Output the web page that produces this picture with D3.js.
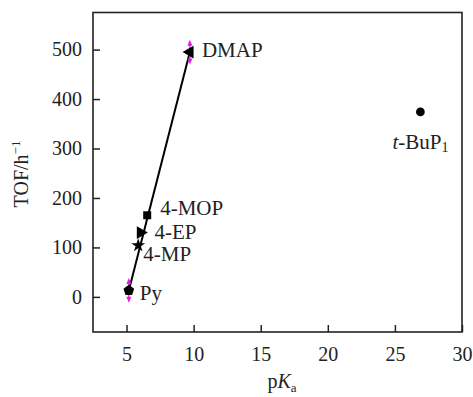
<!DOCTYPE html>
<html><head><meta charset="utf-8">
<script src="https://cdn.jsdelivr.net/npm/d3@7"></script>
<style>body{margin:0;background:#fff}svg{display:block}svg text{font-family:"Liberation Serif","DejaVu Serif",serif !important;fill:#222}</style>
</head><body><svg id="c" width="473" height="397"></svg>
<script>
const names = ["Py","4-MP","4-EP","4-MOP","DMAP","t-BuP1"];
const pKa = [5.17, 5.87, 6.04, 6.54, 9.72, 26.9];
const tof = [13, 104, 130, 165, 495, 374];
const errs = [25, 0, 0, 0, 25, 0];
const xTicks = [5, 10, 15, 20, 25, 30];
const yTicks = [0, 100, 200, 300, 400, 500];
const fitIdx = [0, 4];

const svg = d3.select("#c");
const L = 93, R = 462, T = 12.5, B = 332;
const x = d3.scaleLinear().domain([2.5, 30]).range([L, R]);
const y = d3.scaleLinear().domain([-71, 575]).range([B, T]);

svg.append("rect").attr("x", L).attr("y", T).attr("width", R - L).attr("height", B - T)
  .attr("fill", "none").attr("stroke", "#222").attr("stroke-width", 1.6);

const xa = svg.append("g").attr("transform", `translate(0,${B})`)
  .call(d3.axisBottom(x).tickValues(xTicks).tickSize(-7).tickPadding(15).tickFormat(d3.format("d")));
const ya = svg.append("g").attr("transform", `translate(${L},0)`)
  .call(d3.axisLeft(y).tickValues(yTicks).tickSize(-7).tickPadding(11).tickFormat(d3.format("d")));
[xa, ya].forEach(a => {
  a.attr("font-family", "Liberation Serif").attr("font-size", 20);
  a.select(".domain").remove();
  a.selectAll("line").attr("stroke", "#222").attr("stroke-width", 1.5);
  a.selectAll("text").attr("font-size", 20).attr("fill", "#222")
   .attr("font-family", "Liberation Serif");
});

// axis titles
const xt = svg.append("text").attr("x", 282).attr("y", 388).attr("text-anchor", "middle").attr("font-size", 20);
xt.append("tspan").text("p");
xt.append("tspan").attr("font-style", "italic").text("K");
xt.append("tspan").attr("font-size", 13).attr("dy", 4).text("a");

const yt = svg.append("text").attr("transform", "translate(28,174) rotate(-90)").attr("text-anchor", "middle").attr("font-size", 20);
yt.append("tspan").text("TOF/h");
yt.append("tspan").attr("font-size", 13).attr("dy", -8).text("\u22121");

// fit line
svg.append("line")
  .attr("x1", x(pKa[fitIdx[0]])).attr("y1", y(tof[fitIdx[0]]))
  .attr("x2", x(pKa[fitIdx[1]])).attr("y2", y(tof[fitIdx[1]]))
  .attr("stroke", "#000").attr("stroke-width", 2);

// error bars
const mag = "#e619e6";
pKa.forEach((p, i) => {
  if (!errs[i]) return;
  const cx = x(p), y1 = y(tof[i] + errs[i]), y2 = y(tof[i] - errs[i]);
  svg.append("line").attr("x1", cx).attr("x2", cx).attr("y1", y1 + 3).attr("y2", y2 - 3)
    .attr("stroke", mag).attr("stroke-width", 1.3);
  svg.append("path").attr("d", `M${cx},${y1} L${cx - 2.5},${y1 + 6} L${cx + 2.5},${y1 + 6}Z`).attr("fill", mag);
  svg.append("path").attr("d", `M${cx},${y2} L${cx - 2.5},${y2 - 6} L${cx + 2.5},${y2 - 6}Z`).attr("fill", mag);
});

// markers
const pentagon = { draw(ctx, size) {
  const r = Math.sqrt(size / 2.378);
  for (let k = 0; k < 5; k++) {
    const a = -Math.PI / 2 + k * 2 * Math.PI / 5;
    k ? ctx.lineTo(r * Math.cos(a), r * Math.sin(a)) : ctx.moveTo(r * Math.cos(a), r * Math.sin(a));
  }
  ctx.closePath();
}};
const shapes = [
  { t: pentagon, s: 75, r: 0 },
  { t: d3.symbolStar, s: 60, r: 0 },
  { t: d3.symbolTriangle, s: 70, r: 90 },
  { t: d3.symbolSquare, s: 64, r: 0 },
  { t: d3.symbolTriangle, s: 70, r: -90 },
  { t: d3.symbolCircle, s: 60, r: 0 }
];
pKa.forEach((p, i) => {
  svg.append("path").attr("d", d3.symbol().type(shapes[i].t).size(shapes[i].s)())
    .attr("transform", `translate(${x(p)},${y(tof[i])}) rotate(${shapes[i].r})`)
    .attr("fill", "#000");
});

// labels
const off = [[11, 3], [5, 9], [14, -1], [13, -7], [12, -2], [-28, 30]];
pKa.forEach((p, i) => {
  const t = svg.append("text").attr("x", x(p) + off[i][0]).attr("y", y(tof[i]) + off[i][1])
    .attr("font-size", 21).attr("dominant-baseline", "central");
  if (names[i] === "t-BuP1") {
    t.append("tspan").attr("font-style", "italic").text("t");
    t.append("tspan").text("-BuP");
    t.append("tspan").attr("font-size", 14).attr("dy", 5).text("1");
  } else t.text(names[i]);
});
</script></body></html>
